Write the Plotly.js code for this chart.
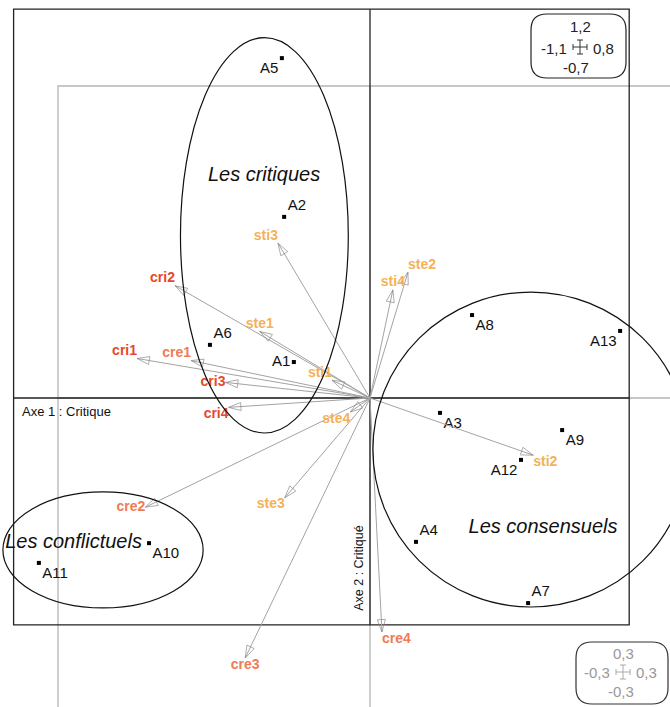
<!DOCTYPE html>
<html><head><meta charset="utf-8">
<script src="https://cdn.plot.ly/plotly-3.0.1.min.js"></script>
<style>html,body{margin:0;padding:0;background:#fff}</style>
</head><body><div id="chart" style="width:670px;height:707px"></div>
<script>
// ---------- data ----------
const indNames = ['A1','A2','A3','A4','A5','A6','A7','A8','A9','A10','A11','A12','A13'];
const indX = [-0.235,-0.265,0.216,0.142,-0.272,-0.494,0.488,0.315,0.593,-0.682,-1.022,0.466,0.772];
const indY = [0.111,0.559,-0.046,-0.444,1.049,0.164,-0.633,0.256,-0.099,-0.448,-0.509,-0.191,0.207];

const varNames = ['cri1','cri2','cri3','cri4','cre1','cre2','cre3','cre4','sti1','sti2','sti3','sti4','ste1','ste2','ste3','ste4'];
const varX = [-0.224,-0.1875,-0.139,-0.136,-0.172,-0.216,-0.120,0.0115,-0.0365,0.157,-0.0885,0.022,-0.106,0.0365,-0.082,-0.019];
const varY = [0.038,0.108,0.015,-0.009,0.036,-0.105,-0.250,-0.225,0.017,-0.055,0.149,0.104,0.064,0.121,-0.096,-0.0135];

const groupNames = ['Les critiques','Les consensuels','Les conflictuels'];
const groupCx = [-0.326, 0.497, -0.824];
const groupCy = [0.502, -0.159, -0.469];
const groupRx = [0.259, 0.488, 0.309];
const groupRy = [0.610, 0.486, 0.179];
const groupLabelX = [-0.327, 0.534, -0.915];
const groupLabelY = [0.685, -0.401, -0.448];

const indFrameX = [-1.1, 0.8];
const indFrameY = [-0.7, 1.2];
const varFrameX = [-0.3, 0.3];
const varFrameY = [-0.3, 0.3];
const axisTitles = ['Axe 1 : Critique', 'Axe 2 : Critiqué'];

// ---------- styles ----------
const W = 670, H = 707;
const OX = 370, OY = 398;          // origin pixel
const SI = 324, SV = 1040;         // px per unit (individuals / variables)
const FONT = 'Liberation Sans, Arial, sans-serif';
const indTextPos = ['middle left','top right','bottom right','top right','bottom left','top right','top right','bottom right','bottom right','bottom right','bottom right','bottom left','bottom left'];
const varTextPos = ['top left','top left','middle left','bottom left','top left','middle left','bottom center','bottom right','top left','bottom right','top left','top center','top center','top right','bottom left','bottom left'];
function varColor(n){
  if(n.startsWith('cri')) return '#e8472c';
  if(n.startsWith('cre')) return '#f07b55';
  return '#f5b158';
}
const px = v => v / W, py = v => 1 - v / H;

const traces = [];
// arrows (variables)
varNames.forEach((n,i) => {
  traces.push({
    type:'scatter', mode:'lines+markers', xaxis:'x2', yaxis:'y2',
    x:[0, varX[i]], y:[0, varY[i]], hoverinfo:'skip', showlegend:false,
    line:{color:'#a3a3a3', width:1},
    marker:{symbol:['circle','arrow-open'], size:[0,13], angleref:'previous',
            color:'#8a8a8a', line:{width:1, color:'#8a8a8a'}}
  });
});
traces.push({
  type:'scatter', mode:'text', xaxis:'x2', yaxis:'y2',
  x:varX, y:varY, text:varNames, textposition:varTextPos,
  textfont:{family:FONT, size:14, weight:'bold', color:varNames.map(varColor)},
  hoverinfo:'skip', showlegend:false
});
// individuals
traces.push({
  type:'scatter', mode:'markers+text', x:indX, y:indY, text:indNames,
  textposition:indTextPos,
  marker:{symbol:'square', size:4, color:'#000'},
  textfont:{family:FONT, size:15, color:'#111'},
  hoverinfo:'skip', showlegend:false
});
// group labels
traces.push({
  type:'scatter', mode:'text', x:groupLabelX, y:groupLabelY, text:groupNames,
  textposition:'middle center',
  textfont:{family:FONT, size:20, style:'italic', color:'#111'},
  hoverinfo:'skip', showlegend:false
});

const shapes = [];
// variable frame + axes (gray)
shapes.push({type:'rect', xref:'x2', yref:'y2', x0:varFrameX[0], x1:varFrameX[1], y0:varFrameY[0], y1:varFrameY[1], line:{color:'#b5b5b5', width:1.3}, layer:'below'});
shapes.push({type:'line', xref:'x2', yref:'y2', x0:0, x1:0, y0:varFrameY[0], y1:varFrameY[1], line:{color:'#b5b5b5', width:1.3}, layer:'below'});
shapes.push({type:'line', xref:'x2', yref:'y2', x0:varFrameX[0], x1:varFrameX[1], y0:0, y1:0, line:{color:'#b5b5b5', width:1.3}, layer:'below'});
// individual frame + axes (black)
shapes.push({type:'rect', xref:'x', yref:'y', x0:indFrameX[0], x1:indFrameX[1], y0:indFrameY[0], y1:indFrameY[1], line:{color:'#222', width:1.3}, layer:'below'});
shapes.push({type:'line', xref:'x', yref:'y', x0:0, x1:0, y0:indFrameY[0], y1:indFrameY[1], line:{color:'#222', width:1.3}, layer:'below'});
shapes.push({type:'line', xref:'x', yref:'y', x0:indFrameX[0], x1:indFrameX[1], y0:0, y1:0, line:{color:'#222', width:1.3}, layer:'below'});
// group ellipses
groupNames.forEach((g,i) => {
  shapes.push({type:'circle', xref:'x', yref:'y',
    x0:groupCx[i]-groupRx[i], x1:groupCx[i]+groupRx[i],
    y0:groupCy[i]-groupRy[i], y1:groupCy[i]+groupRy[i],
    line:{color:'#111', width:1.2}});
});

// legend boxes (decoration, pixel based)
function rrect(x0,y0,x1,y1,r){
  const P=(a,b)=>px(a)+','+py(b);
  return 'M'+P(x0+r,y0)+' L'+P(x1-r,y0)+' Q'+P(x1,y0)+' '+P(x1,y0+r)+
    ' L'+P(x1,y1-r)+' Q'+P(x1,y1)+' '+P(x1-r,y1)+' L'+P(x0+r,y1)+
    ' Q'+P(x0,y1)+' '+P(x0,y1-r)+' L'+P(x0,y0+r)+' Q'+P(x0,y0)+' '+P(x0+r,y0)+' Z';
}
function crossShapes(cx,cy,col){
  const L=(x0,y0,x1,y1)=>({type:'line', xref:'paper', yref:'paper', x0:px(x0), y0:py(y0), x1:px(x1), y1:py(y1), line:{color:col, width:1}});
  return [L(cx-7,cy,cx+7,cy), L(cx,cy-7,cx,cy+7), L(cx-7,cy-3,cx-7,cy+3), L(cx+7,cy-3,cx+7,cy+3), L(cx-3,cy-7,cx+3,cy-7), L(cx-3,cy+7,cx+3,cy+7)];
}
shapes.push({type:'path', xref:'paper', yref:'paper', path:rrect(531,14,626,78,16), line:{color:'#222', width:1.2}, fillcolor:'#fff'});
shapes.push(...crossShapes(580,47,'#333'));
shapes.push({type:'path', xref:'paper', yref:'paper', path:rrect(576,642,668,704,16), line:{color:'#333', width:1.2}, fillcolor:'#fff'});
shapes.push(...crossShapes(623,672,'#aaa'));

const ann = [];
function lab(t,x,y,col,xa){ ann.push({xref:'paper', yref:'paper', x:px(x), y:py(y), text:t, showarrow:false, xanchor:xa||'center', yanchor:'middle', font:{family:FONT, size:15, color:col}}); }
lab('1,2',580,27,'#222'); lab('-1,1',569,48,'#222','right'); lab('0,8',591,48,'#222','left'); lab('-0,7',576,67,'#222');
lab('0,3',623,653,'#999'); lab('-0,3',612,672,'#999','right'); lab('0,3',634,672,'#999','left'); lab('-0,3',621,691,'#999');
ann.push({xref:'x', yref:'y', x:indFrameX[0], y:0, xshift:6, yshift:-13, text:axisTitles[0], showarrow:false, xanchor:'left', yanchor:'middle', font:{family:FONT, size:13, color:'#111'}});
ann.push({xref:'x', yref:'y', x:0, y:indFrameY[0], xshift:-11, yshift:12, text:axisTitles[1], showarrow:false, textangle:-90, xanchor:'center', yanchor:'bottom', font:{family:FONT, size:12.5, color:'#111'}});

const hidden = {visible:false, showgrid:false, zeroline:false, fixedrange:true};
const layout = {
  width:W, height:H, margin:{l:0,r:0,t:0,b:0}, paper_bgcolor:'#fff', plot_bgcolor:'#fff',
  showlegend:false,
  xaxis:Object.assign({range:[-OX/SI, (W-OX)/SI]}, hidden),
  yaxis:Object.assign({range:[-(H-OY)/SI, OY/SI]}, hidden),
  xaxis2:Object.assign({range:[-OX/SV, (W-OX)/SV], overlaying:'x', anchor:'y2'}, hidden),
  yaxis2:Object.assign({range:[-(H-OY)/SV, OY/SV], overlaying:'y', anchor:'x2'}, hidden),
  shapes:shapes, annotations:ann
};
Plotly.newPlot('chart', traces, layout, {displayModeBar:false, staticPlot:true});
</script></body></html>
